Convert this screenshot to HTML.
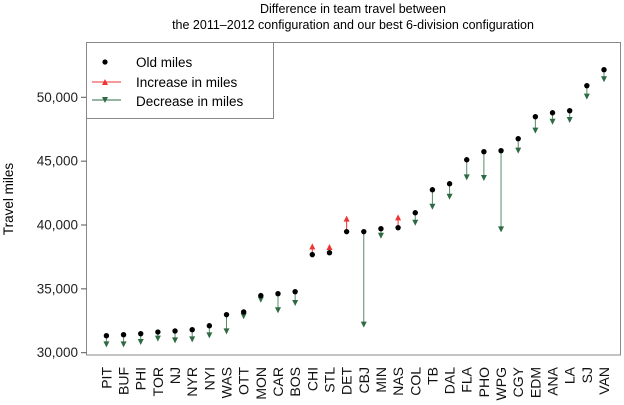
<!DOCTYPE html>
<html><head><meta charset="utf-8"><style>
body{margin:0;background:#fff;}
svg{display:block;font-family:"Liberation Sans",Arial,sans-serif;}
</style></head><body>
<svg id="chart" width="624" height="405" viewBox="0 0 624 405">
<text x="353" y="13" font-size="12.5" text-anchor="middle">Difference in team travel between</text>
<text x="353" y="29" font-size="12.5" text-anchor="middle">the 2011–2012 configuration and our best 6-division configuration</text>
<text transform="translate(13,199) rotate(-90)" font-size="13.5" text-anchor="middle">Travel miles</text>
<rect x="86.5" y="42.5" width="534" height="312.5" fill="none" stroke="#888" stroke-width="1"/>
<g id="yaxis"></g>
<g id="marks"></g>
<g id="xlabels"></g>
<g>
<rect x="86.5" y="42.5" width="187" height="76" fill="#fff" stroke="#888"/>
<circle cx="105" cy="62" r="2.6" fill="#000"/>
<text x="136" y="67" font-size="13.5">Old miles</text>
<line x1="92" y1="82" x2="121" y2="82" stroke="#e33"/>
<path d="M102,85 L108,85 L105,79 Z" fill="#e33"/>
<text x="136" y="87" font-size="13.5">Increase in miles</text>
<line x1="92" y1="100" x2="121" y2="100" stroke="#2e6b44"/>
<path d="M102,97 L108,97 L105,103 Z" fill="#2e6b44"/>
<text x="136" y="106" font-size="13.5">Decrease in miles</text>
</g>
</svg>
<script>
const teams=["PIT","BUF","PHI","TOR","NJ","NYR","NYI","WAS","OTT","MON","CAR","BOS","CHI","STL","DET","CBJ","MIN","NAS","COL","TB","DAL","FLA","PHO","WPG","CGY","EDM","ANA","LA","SJ","VAN"];
const oldMiles=[31330,31410,31490,31620,31700,31800,32110,32980,33190,34470,34620,34780,37680,37830,39480,39480,39710,39790,40960,42760,43230,45110,45740,45820,46760,48480,48790,48950,50910,52160];
const newMiles=[30650,30650,30840,31100,30970,31040,31360,31670,32850,34150,33320,33890,38330,38280,40500,32200,39160,40600,40180,41430,42210,43730,43680,39660,45820,47390,48090,48220,50050,51410];
const yTicks=[30000,35000,40000,45000,50000];
const yTickLabels=["30,000","35,000","40,000","45,000","50,000"];
const NS="http://www.w3.org/2000/svg";
function y(v){return 352.7-(v-30000)*(255.4/20000);}
function x(i){return 106.4+i*(604-106.4)/(teams.length-1);}
function mk(tag,attrs,parent){const e=document.createElementNS(NS,tag);for(const k in attrs)e.setAttribute(k,attrs[k]);parent.appendChild(e);return e;}
const ya=document.getElementById('yaxis');
yTicks.forEach((t,i)=>{
 const l=mk('line',{x1:81,x2:86.5,y1:y(t),y2:y(t),stroke:'#555'},ya);
 
 
 const tx=mk('text',{x:78,y:y(t)+4.5,'font-size':13.5,'text-anchor':'end',fill:'#222'},ya);
 tx.textContent=yTickLabels[i];
 
 
});
const g=document.getElementById('marks');
const xl=document.getElementById('xlabels');
teams.forEach((tm,i)=>{
 const cx=x(i),yo=y(oldMiles[i]),yn=y(newMiles[i]);
 const up=newMiles[i]>oldMiles[i];
 const col=up?'#e33':'#2e6b44';
 const ln=mk('line',{x1:cx,x2:cx,y1:yo,y2:yn,stroke:up?'#e33':'#5a8a6a','stroke-width':1},g);
 
 
 const d=up?`M${cx-3},${yn+3} L${cx+3},${yn+3} L${cx},${yn-3} Z`:`M${cx-3},${yn-3} L${cx+3},${yn-3} L${cx},${yn+3} Z`;
 const tri=mk('path',{d:d,fill:col},g);
 
 
 const c=mk('circle',{cx:cx,cy:yo,r:2.7,fill:'#000'},g);
 
 
 const t=mk('text',{transform:`translate(${cx+5},367) rotate(-90)`,'font-size':14,'text-anchor':'end',fill:'#111'},xl);
 t.textContent=tm;
 
 
});
</script>
</body></html>
